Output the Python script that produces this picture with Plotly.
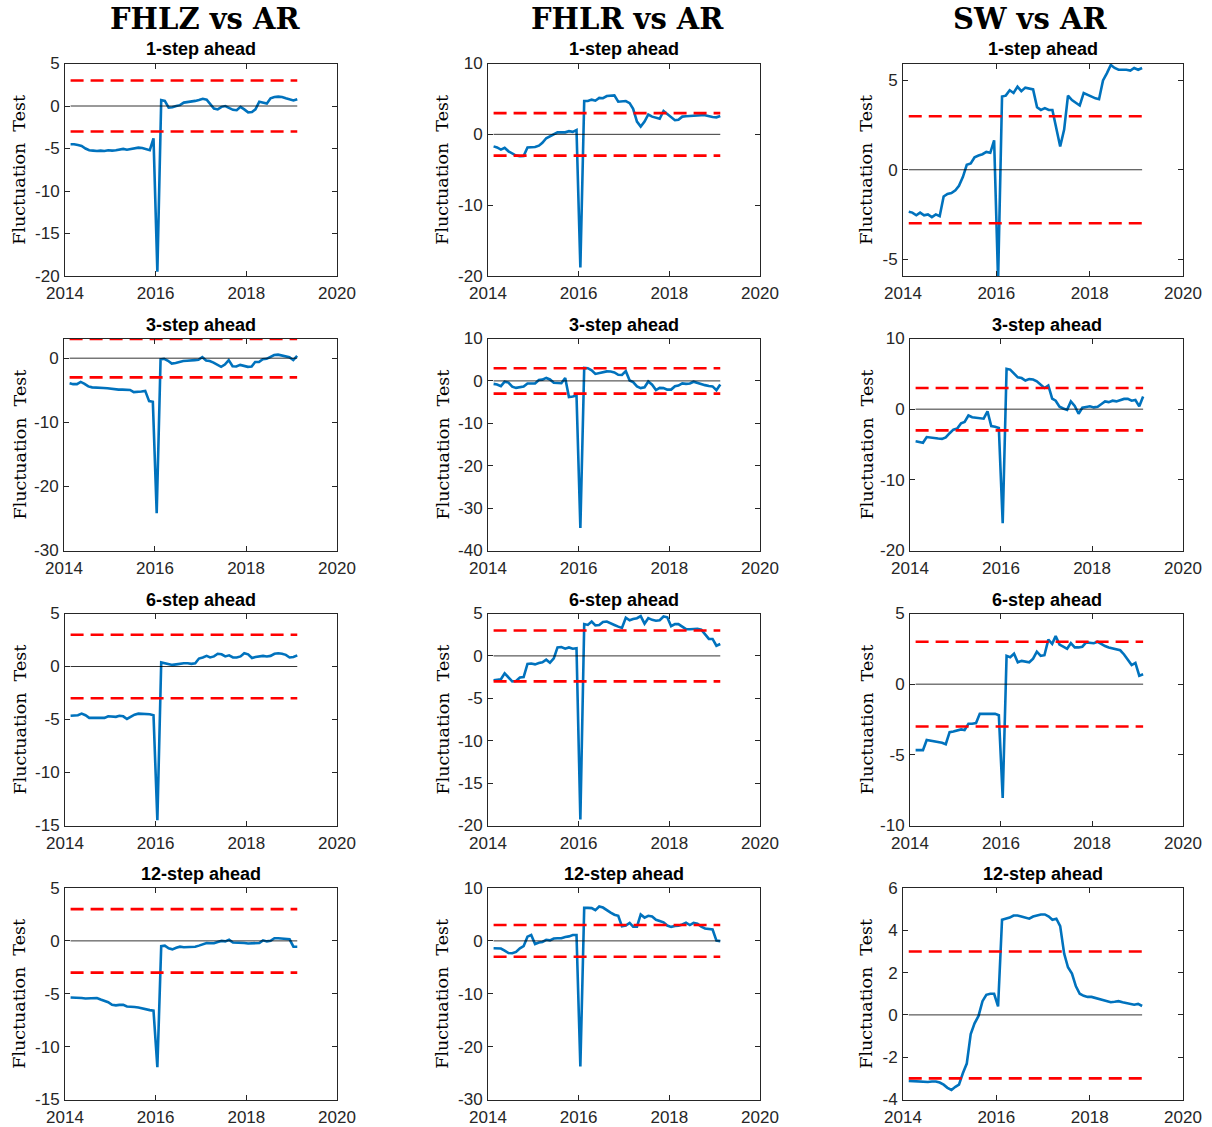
import pandas as pd
import plotly.graph_objects as go

# Observation dates: mid-month, February 2014 to February 2019 (61 months)
dates = pd.date_range("2014-02-01", periods=61, freq="MS") + pd.Timedelta(days=14)

models = ["FHLZ", "FHLR", "SW"]
horizons = [1, 3, 6, 12]
year_ticks = [2014, 2016, 2018, 2020]
critical_value = 3.0

# Fluctuation test statistics, one list per model and horizon
fhlz_h1 = [-4.5, -4.5, -4.6, -4.7, -5.0, -5.2, -5.25, -5.3, -5.25, -5.3,
           -5.2, -5.25, -5.2, -5.1, -5.05, -5.15, -5.05, -4.95, -4.9, -4.95,
           -5.05, -5.2, -3.8, -19.5, 0.7, 0.6, -0.2, -0.15, 0.0, 0.1,
           0.4, 0.45, 0.5, 0.6, 0.7, 0.85, 0.75, 0.2, -0.3, -0.4,
           -0.1, 0.0, -0.25, -0.45, -0.5, -0.1, -0.4, -0.75, -0.7, -0.4,
           0.5, 0.4, 0.3, 0.9, 1.05, 1.1, 1.05, 0.9, 0.75, 0.65,
           0.8]
fhlr_h1 = [-1.7, -1.85, -2.15, -1.9, -2.4, -2.75, -3.0, -3.1, -3.05, -1.85,
           -1.85, -1.8, -1.6, -1.2, -0.55, -0.3, -0.05, 0.28, 0.3, 0.28,
           0.45, 0.35, 0.6, -18.8, 4.7, 4.7, 4.9, 4.75, 5.15, 5.1,
           5.4, 5.5, 5.5, 4.6, 4.7, 4.7, 4.4, 3.6, 1.8, 1.1,
           1.8, 2.8, 2.5, 2.4, 2.2, 3.3, 2.85, 2.4, 2.0, 2.05,
           2.5, 2.55, 2.6, 2.7, 2.7, 2.7, 2.7, 2.55, 2.45, 2.4,
           2.6]
sw_h1 = [-2.35, -2.4, -2.55, -2.4, -2.55, -2.5, -2.65, -2.5, -2.6, -1.5,
         -1.35, -1.3, -1.15, -0.9, -0.4, 0.28, 0.35, 0.7, 0.8, 0.87,
         1.0, 0.95, 1.65, -6.2, 4.1, 4.15, 4.45, 4.3, 4.65, 4.4,
         4.6, 4.55, 4.5, 3.5, 3.35, 3.45, 3.35, 3.35, 2.3, 1.3,
         2.25, 4.15, 3.9, 3.75, 3.6, 4.3, 4.2, 4.1, 4.0, 3.95,
         5.0, 5.4, 5.87, 5.7, 5.6, 5.6, 5.6, 5.55, 5.7, 5.6,
         5.7]

fhlz_h3 = [-3.9, -4.05, -4.05, -3.7, -4.0, -4.4, -4.55, -4.55, -4.55, -4.65,
           -4.7, -4.8, -4.8, -4.9, -4.9, -4.9, -4.95, -5.3, -5.3, -5.2,
           -5.1, -6.7, -6.8, -24.2, -0.2, -0.1, -0.4, -0.85, -0.75, -0.55,
           -0.45, -0.4, -0.4, -0.3, -0.25, 0.15, -0.35, -0.45, -0.7, -1.05,
           -1.35, -1.0, -0.3, -1.25, -1.3, -1.05, -1.2, -1.35, -1.3, -0.6,
           -0.6, -0.15, -0.1, 0.2, 0.5, 0.55, 0.45, 0.3, 0.15, -0.3,
           0.35]
fhlr_h3 = [-0.7, -0.85, -1.25, -0.2, -0.4, -1.35, -1.65, -1.55, -1.35, -0.6,
           -0.6, -0.6, 0.2, 0.3, 0.7, 0.35, -0.45, -0.55, -0.55, 0.7,
           -3.8, -3.7, -3.45, -34.7, 3.05, 3.0, 2.5, 1.65, 1.8, 2.0,
           2.25, 2.2, 2.0, 1.45, 1.4, 2.3, 0.1, -0.3, -1.3, -1.7,
           -1.5, -0.15, -0.9, -2.15, -1.65, -1.7, -2.05, -2.05, -1.25, -1.1,
           -0.6, -0.7, -0.6, -0.2, -0.5, -0.75, -1.0, -1.2, -1.3, -2.2,
           -0.85]
sw_h3 = [-4.55, -4.65, -4.75, -3.95, -4.05, -4.1, -4.15, -4.2, -4.0, -3.4,
         -2.9, -2.75, -2.0, -1.8, -0.9, -1.15, -1.25, -1.3, -1.35, -0.3,
         -2.4, -2.5, -2.65, -16.15, 5.7, 5.6, 5.0, 4.5, 4.4, 4.05,
         4.25, 4.2, 3.95, 3.5, 3.0, 3.35, 1.5, 1.2, 0.35, 0.1,
         -0.1, 1.1, 0.45, -0.65, 0.2, 0.3, 0.4, 0.25, 0.35, 0.7,
         1.1, 1.0, 1.2, 1.1, 1.3, 1.45, 1.45, 1.2, 1.3, 0.4,
         1.8]

fhlz_h6 = [-4.65, -4.65, -4.6, -4.45, -4.6, -4.85, -4.85, -4.8, -4.85, -4.85,
           -4.7, -4.75, -4.75, -4.65, -4.7, -4.95, -4.75, -4.55, -4.45, -4.45,
           -4.5, -4.5, -4.6, -14.5, 0.38, 0.3, 0.25, 0.15, 0.2, 0.28,
           0.3, 0.3, 0.25, 0.3, 0.75, 0.85, 1.0, 0.85, 0.95, 1.2,
           1.15, 0.95, 1.05, 0.85, 0.85, 0.95, 1.25, 1.15, 0.8, 0.9,
           0.95, 1.0, 0.95, 1.0, 1.2, 1.25, 1.2, 1.1, 0.85, 0.9,
           1.05]
fhlr_h6 = [-2.87, -2.85, -2.75, -2.05, -2.5, -3.0, -2.95, -2.55, -2.5, -0.95,
           -0.9, -1.0, -0.85, -0.75, -0.45, -0.8, -0.3, 1.0, 1.05, 0.85,
           1.0, 0.85, 0.9, -19.3, 3.75, 3.65, 4.05, 3.6, 3.65, 4.0,
           4.05, 3.8, 3.65, 3.45, 3.3, 4.5, 4.2, 4.35, 4.45, 4.7,
           3.8, 4.45, 4.25, 4.15, 4.2, 4.65, 4.55, 3.5, 3.75, 3.75,
           3.4, 3.15, 3.15, 3.2, 3.2, 3.1, 2.6, 2.0, 2.0, 1.2,
           1.4]
sw_h6 = [-4.67, -4.67, -4.67, -3.95, -4.0, -4.05, -4.05, -4.15, -4.25, -3.4,
         -3.35, -3.3, -3.2, -3.25, -2.8, -2.8, -2.75, -2.1, -2.1, -2.1,
         -2.05, -2.1, -2.2, -8.05, 2.0, 1.9, 2.15, 1.55, 1.65, 1.6,
         1.55, 1.8, 2.3, 2.0, 2.05, 3.15, 2.85, 3.4, 2.8, 2.65,
         2.5, 2.9, 2.6, 2.6, 2.65, 2.95, 2.95, 2.9, 3.0, 2.85,
         2.7, 2.6, 2.55, 2.5, 2.4, 2.1, 1.75, 1.35, 1.5, 0.6,
         0.7]

fhlz_h12 = [-5.35, -5.35, -5.35, -5.4, -5.45, -5.45, -5.45, -5.4, -5.55, -5.7,
            -5.8, -6.05, -6.1, -6.05, -6.05, -6.2, -6.2, -6.25, -6.3, -6.4,
            -6.5, -6.55, -6.6, -11.95, -0.5, -0.45, -0.7, -0.8, -0.65, -0.55,
            -0.6, -0.6, -0.62, -0.55, -0.45, -0.35, -0.2, -0.22, -0.22, -0.1,
            0.0, -0.05, 0.1, -0.15, -0.15, -0.15, -0.2, -0.25, -0.25, -0.25,
            -0.2, 0.05, -0.05, 0.0, 0.25, 0.25, 0.2, 0.2, 0.15, -0.55,
            -0.55]
fhlr_h12 = [-1.4, -1.4, -1.45, -1.85, -2.3, -2.35, -2.1, -1.4, -1.0, 0.8,
            1.1, -0.6, -0.3, -0.2, 0.2, 0.1, 0.45, 0.5, 0.5, 0.75,
            0.85, 1.1, 1.1, -23.75, 6.25, 6.25, 6.2, 5.8, 6.5, 6.3,
            5.75, 5.35, 4.95, 4.75, 2.75, 2.9, 3.4, 2.7, 2.7, 5.0,
            4.4, 4.75, 4.6, 4.0, 3.75, 3.5, 2.9, 2.65, 2.8, 2.85,
            3.1, 3.45, 3.0, 3.4, 3.25, 2.7, 2.35, 2.3, 2.15, 0.05,
            -0.05]
sw_h12 = [-3.12, -3.13, -3.15, -3.18, -3.18, -3.17, -3.15, -3.15, -3.2, -3.3,
          -3.45, -3.55, -3.4, -3.3, -2.75, -2.3, -0.9, -0.4, -0.05, 0.65,
          0.95, 1.0, 1.0, 0.4, 4.5, 4.55, 4.6, 4.7, 4.7, 4.65,
          4.6, 4.55, 4.65, 4.7, 4.75, 4.75, 4.65, 4.5, 4.55, 4.2,
          2.9, 2.25, 1.95, 1.35, 1.0, 0.9, 0.85, 0.85, 0.8, 0.75,
          0.72, 0.65, 0.6, 0.62, 0.65, 0.6, 0.55, 0.5, 0.48, 0.52,
          0.42]

series = {
    ("FHLZ", 1): fhlz_h1, ("FHLR", 1): fhlr_h1, ("SW", 1): sw_h1,
    ("FHLZ", 3): fhlz_h3, ("FHLR", 3): fhlr_h3, ("SW", 3): sw_h3,
    ("FHLZ", 6): fhlz_h6, ("FHLR", 6): fhlr_h6, ("SW", 6): sw_h6,
    ("FHLZ", 12): fhlz_h12, ("FHLR", 12): fhlr_h12, ("SW", 12): sw_h12,
}

# y-axis limits and tick spacing for each panel (row = horizon, col = model)
y_limits = [
    [(-20, 5), (-20, 10), (-5.95, 5.95)],
    [(-30, 3.07), (-40, 10), (-20, 10)],
    [(-15, 5), (-20, 5), (-10, 5)],
    [(-15, 5), (-30, 10), (-4, 6)],
]
y_steps = [
    [5, 10, 5],
    [10, 10, 10],
    [5, 5, 5],
    [5, 10, 2],
]

# ---- page geometry (pixels) ----
W, H = 1212, 1127
col_left = [[65, 488, 903], [64, 488, 910], [65, 488, 910], [65, 488, 903]]
col_right = [337, 760, 1183]
row_top = [63.5, 338.5, 613.5, 888]
row_bottom = [276, 550.5, 825.5, 1099.5]
header_x = [205, 627, 1030]
ylabel_x = [19, 442, 866]

BLUE = "#0072BD"
AXIS_COLOR = "#262626"
TICK_FONT = dict(family="Liberation Sans, Arial, Helvetica, sans-serif", size=17, color=AXIS_COLOR)
SERIF = "DejaVu Serif, serif"


def tick_values(lo, hi, step):
    """Multiples of step inside [lo, hi]."""
    first = int(-(-lo // step)) * step
    vals = []
    v = first
    while v <= hi + 1e-9:
        vals.append(v)
        v += step
    return vals


fig = go.Figure()
annotations = []

for r, h in enumerate(horizons):
    for c, m in enumerate(models):
        k = r * 3 + c + 1
        sfx = "" if k == 1 else str(k)
        xa, ya = "x" + sfx, "y" + sfx
        vals = series[(m, h)]
        span = [dates[0], dates[-1]]

        fig.add_trace(go.Scatter(x=dates, y=vals, mode="lines",
                                 line=dict(color=BLUE, width=2.6),
                                 xaxis=xa, yaxis=ya, showlegend=False, hoverinfo="skip"))
        fig.add_trace(go.Scatter(x=span, y=[0, 0], mode="lines",
                                 line=dict(color="black", width=0.8),
                                 xaxis=xa, yaxis=ya, showlegend=False, hoverinfo="skip"))
        for cv in (critical_value, -critical_value):
            fig.add_trace(go.Scatter(x=span, y=[cv, cv], mode="lines",
                                     line=dict(color="#FF0000", width=2.6, dash="13px,7px"),
                                     xaxis=xa, yaxis=ya, showlegend=False, hoverinfo="skip"))

        x0, x1 = col_left[r][c], col_right[c]
        y0, y1 = row_top[r], row_bottom[r]
        lo, hi = y_limits[r][c]
        yt = tick_values(lo, hi, y_steps[r][c])

        fig.layout["xaxis" + sfx] = dict(
            domain=[x0 / W, x1 / W], anchor=ya, type="date", automargin=False,
            range=["2014-01-01", "2020-01-01"],
            tickmode="array",
            tickvals=[f"{yr}-01-01" for yr in year_ticks],
            ticktext=[str(yr) for yr in year_ticks],
            ticks="inside", ticklen=5, tickwidth=1, tickcolor=AXIS_COLOR,
            showline=True, linecolor=AXIS_COLOR, linewidth=1, mirror="ticks",
            showgrid=False, zeroline=False, tickfont=TICK_FONT, ticklabelstandoff=2,
        )
        fig.layout["yaxis" + sfx] = dict(
            domain=[1 - y1 / H, 1 - y0 / H], anchor=xa, automargin=False,
            range=[lo, hi], tickmode="array", tickvals=yt,
            ticktext=[f"{v:g}" for v in yt],
            ticks="inside", ticklen=5, tickwidth=1, tickcolor=AXIS_COLOR,
            showline=True, linecolor=AXIS_COLOR, linewidth=1, mirror="ticks",
            showgrid=False, zeroline=False, tickfont=TICK_FONT, ticklabelstandoff=1,
        )

        # panel title
        annotations.append(dict(
            text=f"<b>{h}-step ahead</b>", x=(x0 + x1) / 2 / W, y=1 - (y0 - 14) / H,
            xref="paper", yref="paper", xanchor="center", yanchor="middle",
            showarrow=False, font=dict(family="Liberation Sans, Arial, sans-serif", size=18, color="black"),
        ))
        # y-axis label
        annotations.append(dict(
            text="Fluctuation\u00a0 Test", x=ylabel_x[c] / W, y=1 - (y0 + y1) / 2 / H,
            xref="paper", yref="paper", xanchor="center", yanchor="middle", textangle=-90,
            showarrow=False, font=dict(family=SERIF, size=17.5, color="black"),
        ))

# column headers
for c, m in enumerate(models):
    annotations.append(dict(
        text=f"<b>{m} vs AR</b>", x=header_x[c] / W, y=1 - 19 / H,
        xref="paper", yref="paper", xanchor="center", yanchor="middle",
        showarrow=False, font=dict(family=SERIF, size=29, color="black"),
    ))

fig.update_layout(
    width=W, height=H, margin=dict(l=0, r=0, t=0, b=0, autoexpand=False),
    paper_bgcolor="white", plot_bgcolor="white",
    annotations=annotations, showlegend=False,
)

fig.write_html("out.html")
